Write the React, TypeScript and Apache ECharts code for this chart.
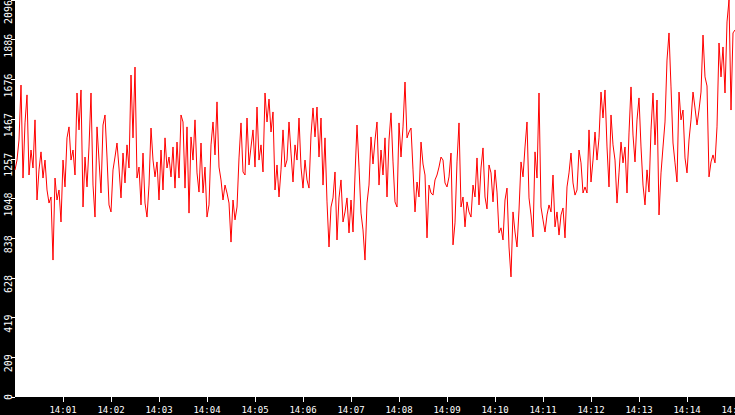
import { useEffect, useRef } from 'react'
import * as echarts from 'echarts'

// one sample every 2.5 s, starting at 14:00:00
const START_SEC = 14 * 3600
const STEP_SEC = 2.5
const END_SEC = START_SEC + 15 * 60
const X_TICK_SEC = 60

const Y_MAX = 2096
const Y_STEP = 209.6

// 14:00:00 - 14:01:52.5
const part1 = [
  1199, 1251, 1357, 1647, 1156, 1447, 1595, 1172, 1304, 1209, 1463, 1040, 1199, 1294, 1156, 1251,
  1093, 1024, 1056, 723, 1156, 1040, 1093, 924, 1251, 1109, 1368, 1426, 1251, 1304, 1172, 1605,
  1410, 1621, 1003, 1267, 1109, 1320, 1605, 1119, 950, 1426, 1251, 1077, 1436, 1489,
]
// 14:01:55 - 14:03:45
const part2 = [
  1267, 1014, 977, 1199, 1267, 1341, 1209, 1051, 1288, 1130, 1331, 1209, 1700, 1368, 1742, 1156,
  1214, 1014, 1288, 1024, 950, 1119, 1420, 1251, 1162, 1241, 1040, 1304, 1093, 1368, 1209, 1267,
  1162, 1320, 1103, 1346, 1156, 1489, 1452, 1103, 1426, 971, 1373, 1251, 1463,
]
// 14:03:47.5 - 14:05:37.5
const part3 = [
  1183, 1082, 1341, 1077, 1214, 950, 1014, 1331, 1452, 1278, 1558, 1214, 1146, 1040, 1119, 1077,
  1024, 818, 1040, 935, 1003, 1262, 1447, 1188, 1172, 1473, 1225, 1320, 1410, 1214, 1531, 1251,
  1331, 1188, 1605, 1452, 1573, 1399, 1505, 1093, 1225, 1056, 1199, 1410, 1214,
]
// 14:05:40 - 14:07:30
const part4 = [
  1251, 1452, 1288, 1135, 1331, 1251, 1473, 1214, 1103, 1251, 1146, 1103, 1383, 1526, 1373, 1531,
  1267, 1473, 1119, 1368, 1030, 792, 1003, 1051, 1188, 829, 1051, 1146, 924, 977, 1051, 866,
  1040, 871, 1172, 1436, 1214, 971, 882, 723, 1024, 1119, 1373, 1230, 1357,
]
// 14:07:32.5 - 14:09:22.5
const part5 = [
  1452, 1119, 1304, 1172, 1368, 1056, 1357, 1500, 1241, 1030, 1003, 1447, 1267, 1426, 1663, 1368,
  1399, 1420, 1199, 977, 1135, 1056, 1346, 1230, 1172, 840, 1119, 1077, 1066, 1146, 1172, 1214,
  1267, 1251, 1130, 1109, 1162, 1288, 803, 919, 1241, 1447, 1003, 1056, 898,
]
// 14:09:25 - 14:11:15
const part6 = [
  1030, 977, 950, 1119, 1056, 1262, 1014, 1209, 1315, 1056, 993, 1225, 1183, 1030, 1199, 1082,
  866, 893, 829, 1040, 1103, 792, 634, 977, 871, 792, 987, 1241, 1162, 1320, 1452, 1051,
  961, 845, 1294, 1156, 1605, 1003, 935, 871, 961, 1014, 977, 1172, 898,
]
// 14:11:17.5 - 14:13:07.5
const part7 = [
  977, 855, 961, 998, 840, 1109, 1183, 1288, 1130, 1066, 1093, 1304, 1236, 1077, 1109, 1077,
  1410, 1135, 1251, 1399, 1251, 1368, 1610, 1473, 1621, 1320, 1109, 1489, 1331, 1251, 1024, 1183,
  1346, 1236, 1320, 1077, 1394, 1637, 1383, 1241, 1463, 1579, 1320, 1119, 1014,
]
// 14:13:10 - 14:15:00
const part8 = [
  1199, 1082, 1410, 1605, 1331, 1568, 961, 1183, 1320, 1452, 1779, 1922, 1637, 1341, 1236, 1135,
  1610, 1463, 1515, 1262, 1183, 1357, 1463, 1610, 1526, 1436, 1515, 1610, 1911, 1690, 1642, 1162,
  1241, 1278, 1236, 1426, 1869, 1690, 1848, 1605, 1980, 2096, 1515, 1922, 1938,
]

const values = [...part1, ...part2, ...part3, ...part4, ...part5, ...part6, ...part7, ...part8]

function clock(sec: number) {
  const h = Math.floor(sec / 3600)
  const m = Math.round((sec % 3600) / 60)
  return `${h}:${String(m).padStart(2, '0')}`
}

const MONO = "'DejaVu Sans Mono', monospace"

export default function App() {
  const ref = useRef<HTMLDivElement>(null)

  useEffect(() => {
    if (!ref.current) return
    const chart = echarts.init(ref.current, undefined, { renderer: 'svg' })
    const tickStyle = { color: '#fff', fontSize: 10, fontFamily: MONO }

    chart.setOption({
      animation: false,
      backgroundColor: '#000',
      grid: {
        show: true,
        backgroundColor: '#fff',
        borderWidth: 0,
        left: 15,
        right: 0,
        top: 0,
        bottom: 18,
        containLabel: false,
        outerBoundsMode: 'none',
      },
      xAxis: {
        type: 'value',
        min: START_SEC,
        max: END_SEC,
        interval: X_TICK_SEC,
        axisLine: { show: false },
        splitLine: { show: false },
        axisTick: { show: true, length: 5, lineStyle: { color: '#fff', width: 1 } },
        axisLabel: {
          showMinLabel: false,
          color: '#fff',
          fontSize: 9,
          fontFamily: MONO,
          margin: 8,
          formatter: (v: number) => clock(v),
        },
      },
      yAxis: {
        type: 'value',
        min: 0,
        max: Y_MAX,
        interval: Y_STEP,
        axisLine: { show: false },
        splitLine: { show: false },
        axisTick: { show: true, length: 4, lineStyle: { color: '#fff', width: 1 } },
        axisLabel: {
          rotate: 90,
          margin: 2,
          color: '#fff',
          fontSize: 10,
          fontFamily: MONO,
          formatter: (v: number) => {
            const s = String(Math.floor(v + 1e-6))
            if (v <= 0) return `{z|${s}}`
            if (v >= Y_MAX - 1e-6) return `{t|${s}}`
            return `{n|${s}}`
          },
          rich: {
            z: { ...tickStyle },
            n: { ...tickStyle, padding: [0, 12, 0, 0] },
            t: { ...tickStyle, padding: [0, 24, 0, 0] },
          },
        },
      },
      series: [
        {
          type: 'line',
          data: values.map((v, i) => [START_SEC + i * STEP_SEC, v]),
          showSymbol: false,
          symbol: 'none',
          lineStyle: { color: '#ff0000', width: 1 },
          itemStyle: { color: '#ff0000' },
        },
      ],
    })

    return () => chart.dispose()
  }, [])

  return (
    <div
      ref={ref}
      style={{ position: 'fixed', left: 0, top: 0, width: 735, height: 415 }}
    />
  )
}
